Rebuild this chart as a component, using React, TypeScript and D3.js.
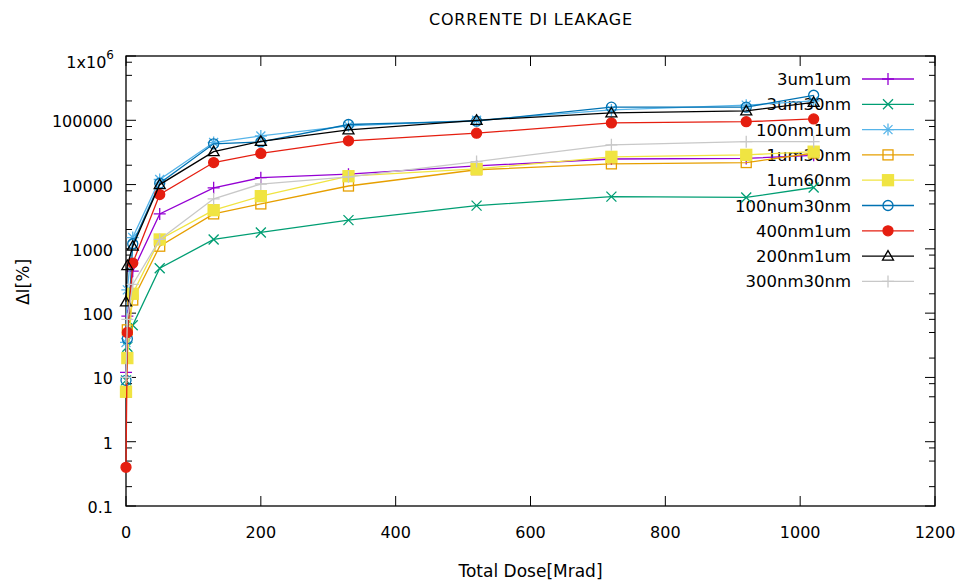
import React, { useEffect, useRef } from "react";
import * as d3 from "d3";

// dose points [Mrad]
const doses = [0, 2, 10, 50, 130, 200, 330, 520, 720, 920, 1020];

const s3um1um = [12, 90, 450, 3500, 8900, 12800, 14500, 19500, 25000, 25500, 28500];
const s3um30nm = [9, 30, 65, 500, 1400, 1800, 2800, 4700, 6500, 6300, 9000];
const s100nm1um = [35, 230, 1500, 12000, 45000, 57000, 82000, 100000, 145000, 172000, 200000];
const s1um30nm = [6, 55, 160, 1100, 3500, 5000, 9500, 17000, 21000, 22000, 31000];
const s1um60nm = [6, 20, 200, 1400, 4000, 6600, 13500, 17500, 27000, 29000, 32500];
const s100num30nm = [9, 40, 1200, 10500, 43000, 46000, 86000, 97000, 160000, 160000, 245000];
const s400nm1um = [0.4, 50, 600, 7000, 22000, 30500, 48000, 63000, 91000, 95000, 105000];
const s200nm1um = [150, 550, 1100, 10000, 32500, 47000, 71000, 100000, 130000, 140000, 190000];
const s300nm30nm = [10, 80, 280, 1400, 6000, 10200, 13200, 22800, 41500, 46500, 46500];

const seriesNames = [
  "3um1um",
  "3um30nm",
  "100nm1um",
  "1um30nm",
  "1um60nm",
  "100num30nm",
  "400nm1um",
  "200nm1um",
  "300nm30nm",
];
const seriesValues = [
  s3um1um,
  s3um30nm,
  s100nm1um,
  s1um30nm,
  s1um60nm,
  s100num30nm,
  s400nm1um,
  s200nm1um,
  s300nm30nm,
];
const seriesColors = [
  "#9400d3",
  "#009e73",
  "#56b4e9",
  "#e69f00",
  "#f0e442",
  "#0072b2",
  "#e51e10",
  "#000000",
  "#c8c8c8",
];
const seriesMarkers = ["plus", "cross", "star", "square", "fsquare", "circle", "fcircle", "triangle", "plus"];

const xTicks = [0, 200, 400, 600, 800, 1000, 1200];
const yTicks = [0.1, 1, 10, 100, 1000, 10000, 100000, 1000000];
const yTickLabels = ["0.1", "1", "10", "100", "1000", "10000", "100000", "1x10"];
const minorMult = [2, 5, 8];

const FONT = "'DejaVu Sans', Verdana, sans-serif";

const drawMarker = (
  g: d3.Selection<SVGGElement, unknown, null, undefined>,
  type: string,
  cx: number,
  cy: number,
  color: string
) => {
  const sw = 1.3;
  if (type === "plus" || type === "star") {
    const h = 6;
    g.append("path")
      .attr("d", `M${cx - h},${cy}H${cx + h}M${cx},${cy - h}V${cy + h}`)
      .attr("stroke", color)
      .attr("stroke-width", sw)
      .attr("fill", "none");
  }
  if (type === "cross" || type === "star") {
    const h = type === "star" ? 4.5 : 5;
    g.append("path")
      .attr("d", `M${cx - h},${cy - h}L${cx + h},${cy + h}M${cx - h},${cy + h}L${cx + h},${cy - h}`)
      .attr("stroke", color)
      .attr("stroke-width", sw)
      .attr("fill", "none");
  }
  if (type === "square" || type === "fsquare") {
    const h = type === "fsquare" ? 5.5 : 5;
    g.append("rect")
      .attr("x", cx - h)
      .attr("y", cy - h)
      .attr("width", 2 * h)
      .attr("height", 2 * h)
      .attr("fill", type === "fsquare" ? color : "none")
      .attr("stroke", color)
      .attr("stroke-width", sw);
  }
  if (type === "circle" || type === "fcircle") {
    g.append("circle")
      .attr("cx", cx)
      .attr("cy", cy)
      .attr("r", 5)
      .attr("fill", type === "fcircle" ? color : "none")
      .attr("stroke", color)
      .attr("stroke-width", sw);
  }
  if (type === "triangle") {
    g.append("path")
      .attr("d", `M${cx},${cy - 5.5}L${cx + 5.5},${cy + 4}L${cx - 5.5},${cy + 4}Z`)
      .attr("fill", "none")
      .attr("stroke", color)
      .attr("stroke-width", sw);
  }
};

const LeakageChart: React.FC = () => {
  const svgRef = useRef<SVGSVGElement | null>(null);

  useEffect(() => {
    if (!svgRef.current) return;
    const svg = d3.select(svgRef.current);
    svg.selectAll("*").remove();

    const width = 961;
    const height = 582;
    const left = 126;
    const right = 935;
    const top = 56;
    const bottom = 506;

    svg.attr("width", width).attr("height", height);
    svg.append("rect").attr("width", width).attr("height", height).attr("fill", "#fff");

    const x = d3.scaleLinear().domain([0, 1200]).range([left, right]);
    const y = d3.scaleLog().domain([0.1, 1000000]).range([bottom, top]);

    const axes = svg.append("g");

    // x ticks (bottom + mirrored top)
    xTicks.forEach((t) => {
      const px = x(t);
      axes.append("line").attr("x1", px).attr("x2", px).attr("y1", bottom).attr("y2", bottom - 10)
        .attr("stroke", "#000").attr("stroke-width", 1);
      axes.append("line").attr("x1", px).attr("x2", px).attr("y1", top).attr("y2", top + 10)
        .attr("stroke", "#000").attr("stroke-width", 1);
      axes.append("text").attr("x", px).attr("y", 538).attr("text-anchor", "middle")
        .attr("font-family", FONT).attr("font-size", 16).attr("fill", "#000").text(t);
    });

    // y ticks, major + minor, left + mirrored right
    yTicks.forEach((t, i) => {
      const py = y(t);
      axes.append("line").attr("x1", left).attr("x2", left + 10).attr("y1", py).attr("y2", py)
        .attr("stroke", "#000").attr("stroke-width", 1);
      axes.append("line").attr("x1", right).attr("x2", right - 10).attr("y1", py).attr("y2", py)
        .attr("stroke", "#000").attr("stroke-width", 1);
      if (i < yTicks.length - 1) {
        minorMult.forEach((m) => {
          const my = y(t * m);
          axes.append("line").attr("x1", left).attr("x2", left + 6).attr("y1", my).attr("y2", my)
            .attr("stroke", "#000").attr("stroke-width", 1);
          axes.append("line").attr("x1", right).attr("x2", right - 6).attr("y1", my).attr("y2", my)
            .attr("stroke", "#000").attr("stroke-width", 1);
        });
      }
      const label = axes.append("text").attr("x", 113).attr("y", py + 7).attr("text-anchor", "end")
        .attr("font-family", FONT).attr("font-size", 16).attr("fill", "#000");
      if (t === 1000000) {
        label.attr("x", 114).attr("y", py + 12);
        label.append("tspan").text(yTickLabels[i]);
        label.append("tspan").attr("dy", -9).attr("font-size", 12).text("6");
      } else {
        label.text(yTickLabels[i]);
      }
    });

    axes.append("rect").attr("x", left).attr("y", top).attr("width", right - left).attr("height", bottom - top)
      .attr("fill", "none").attr("stroke", "#000").attr("stroke-width", 1.3);

    // titles
    svg.append("text").attr("x", (left + right) / 2).attr("y", 25).attr("text-anchor", "middle")
      .attr("font-family", FONT).attr("font-size", 16).attr("textLength", 203).text("CORRENTE DI LEAKAGE");
    svg.append("text").attr("x", (left + right) / 2).attr("y", 577).attr("text-anchor", "middle")
      .attr("font-family", FONT).attr("font-size", 17).text("Total Dose[Mrad]");
    svg.append("text").attr("transform", `translate(29,282) rotate(-90)`).attr("text-anchor", "middle")
      .attr("font-family", FONT).attr("font-size", 17).text("ΔI[%]");

    // legend
    const legend = svg.append("g");
    seriesNames.forEach((name, i) => {
      const ly = 79 + i * 25.3;
      legend.append("text").attr("x", 851).attr("y", ly + 6).attr("text-anchor", "end")
        .attr("font-family", FONT).attr("font-size", 16.5).attr("fill", "#000").text(name);
      legend.append("line").attr("x1", 862).attr("x2", 914).attr("y1", ly).attr("y2", ly)
        .attr("stroke", seriesColors[i]).attr("stroke-width", 1.3);
      drawMarker(legend as any, seriesMarkers[i], 888, ly, seriesColors[i]);
    });

    // series
    const line = d3.line<[number, number]>().x((d) => x(d[0])).y((d) => y(d[1]));
    seriesValues.forEach((vals, i) => {
      const pts: [number, number][] = doses.map((d, k) => [d, vals[k]]);
      const g = svg.append("g");
      g.append("path").attr("d", line(pts)!).attr("fill", "none")
        .attr("stroke", seriesColors[i]).attr("stroke-width", 1.3);
      pts.forEach((p) => drawMarker(g as any, seriesMarkers[i], x(p[0]), y(p[1]), seriesColors[i]));
    });
  }, []);

  return <svg ref={svgRef} style={{ position: "absolute", left: 0, top: 0 }}></svg>;
};

export default function App() {
  return <LeakageChart />;
}
